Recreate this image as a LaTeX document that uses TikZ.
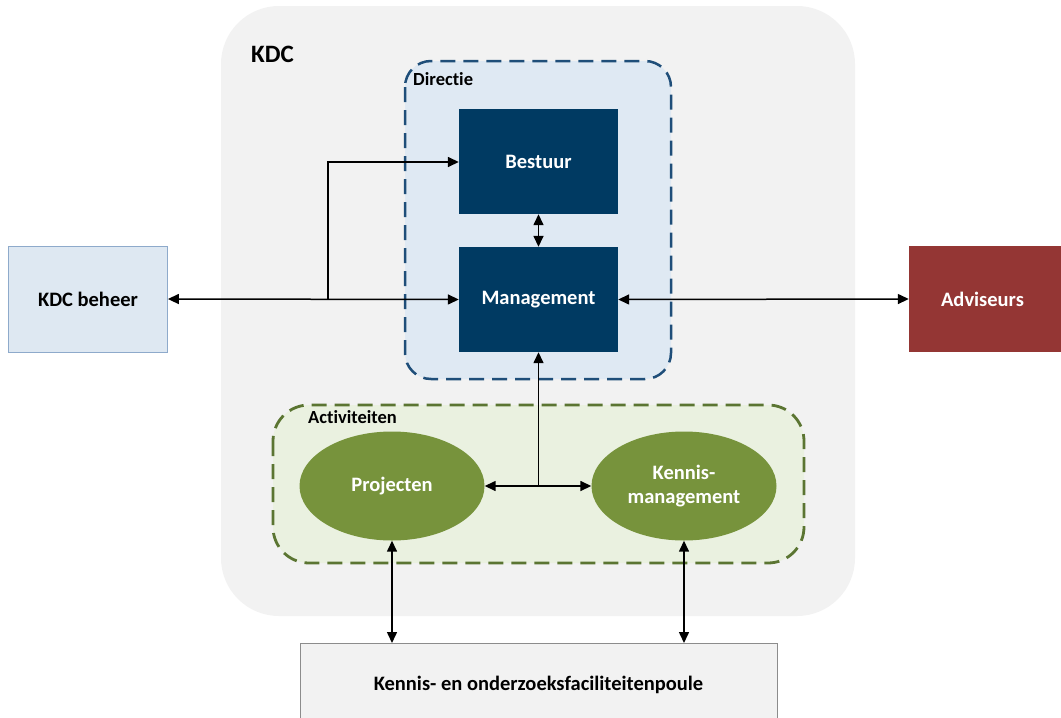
\documentclass[tikz,border=0pt]{standalone}
\usepackage{fontspec}
\setmainfont[Ligatures=NoCommon]{Carlito}
\usetikzlibrary{arrows.meta,shapes.geometric}
\definecolor{kdcgray}{HTML}{F2F2F2}
\definecolor{dirfill}{HTML}{DFE9F3}
\definecolor{dirline}{HTML}{1F4E79}
\definecolor{navy}{HTML}{003A62}
\definecolor{actfill}{HTML}{EAF1E0}
\definecolor{actline}{HTML}{5B7532}
\definecolor{olive}{HTML}{77933C}
\definecolor{advred}{HTML}{943634}
\definecolor{behfill}{HTML}{DEE8F2}
\definecolor{behline}{HTML}{8EAACB}
\definecolor{poolline}{HTML}{8C8C8C}
\tikzset{
  txt/.style={font=\fontsize{20.5}{24}\selectfont\bfseries},
  grouplabel/.style={anchor=north west, font=\fontsize{18.5}{22}\selectfont\bfseries, inner sep=0pt},
  navybox/.style={fill=navy, text=white, txt, minimum width=159pt, minimum height=105pt, inner sep=0pt},
  oliveell/.style={ellipse, fill=olive, text=white, txt, minimum width=185pt, minimum height=109pt, inner sep=0pt, align=center},
  conn/.style={line width=1.5pt, black},
  dbl/.style={conn, {Triangle[length=11pt,width=10pt]}-{Triangle[length=11pt,width=10pt]}},
  sgl/.style={conn, -{Triangle[length=11pt,width=10pt]}},
}
\begin{document}
\begin{tikzpicture}[x=1pt,y=-1pt]
\useasboundingbox (0,0) rectangle (1061,718);
\clip (0,0) rectangle (1061,718);
% KDC
\fill[kdcgray, rounded corners=58pt] (221,6) rectangle (855,616);
\node[anchor=north west, font=\fontsize{25}{30}\selectfont\bfseries, inner sep=0pt] (kdc) at (251,46) {KDC};
% Directie
\draw[dirline, fill=dirfill, line width=2.5pt, dash pattern=on 15pt off 8pt, rounded corners=26pt] (405,61) rectangle (671,379);
\node[grouplabel] (dir) at (413,72) {Directie};
% Activiteiten
\draw[actline, fill=actfill, line width=2.8pt, dash pattern=on 15pt off 8pt, rounded corners=36pt] (273,405) rectangle (804,563);
\node[grouplabel] (act) at (308,410) {Activiteiten};
% boxes
\node[navybox] (best) at (538.5,161.5) {Bestuur};
\node[navybox] (man) at (538.5,299.5) {Management};
\node[fill=behfill, draw=behline, line width=0.8pt, txt, minimum width=159pt, minimum height=106pt, inner sep=0pt] (beh) at (88,299) {KDC beheer};
\node[fill=advred, text=white, txt, minimum width=159pt, minimum height=106pt, inner sep=0pt] (adv) at (988.5,299) {\hspace*{-12pt}Adviseurs};
\node[oliveell] (proj) at (392,486) {Projecten};
\node[oliveell] (kenn) at (684,486) {Kennis-\\management};
\node[fill=kdcgray, draw=poolline, line width=1pt, txt, minimum width=477pt, minimum height=82pt, inner sep=0pt, anchor=north] (pool) at (538.5,643) {Kennis- en onderzoeksfaciliteitenpoule};
% connectors
\coordinate (j1) at (328,299);
\coordinate (j2) at (328,162);
\coordinate (j3) at (538.5,486);
\draw[dbl] (beh.east) -- (man.west);
\draw[sgl] (j1) -- (j2) -- (best.west |- j2);
\draw[dbl] (best.south) -- (man.north);
\draw[dbl] (man.east) -- (adv.west);
\draw[sgl] (j3) -- (man.south);
\draw[dbl] (proj.east) -- (kenn.west);
\draw[dbl] (proj.south) -- (proj.south |- pool.north);
\draw[dbl] (kenn.south) -- (kenn.south |- pool.north);
\end{tikzpicture}
\end{document}
